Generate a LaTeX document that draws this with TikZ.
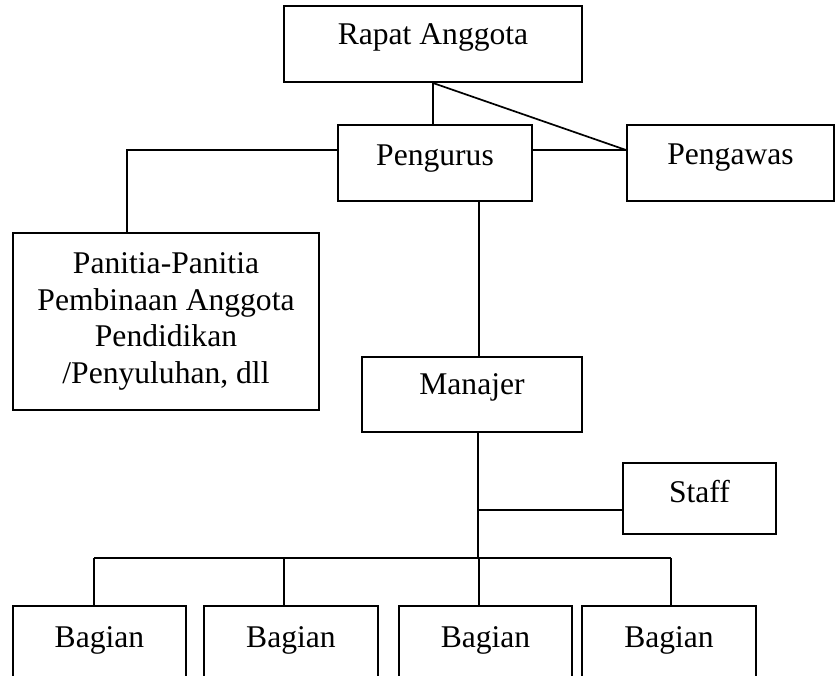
\documentclass[tikz,border=0pt]{standalone}
\usepackage{fontspec}
\setmainfont{Liberation Serif}
\begin{document}
\begin{tikzpicture}[x=1pt,y=-1pt,
  box/.style={draw, line width=2pt, inner sep=0pt, font=\fontsize{31.6}{36.5}\selectfont},
  conn/.style={line width=1.7pt}]
\path[use as bounding box] (0,0) rectangle (835,676);
\clip (0,0) rectangle (835,676);
\node[box, minimum width=298pt, text height=39pt, text depth=37pt] (rapat) at (433,44) {Rapat Anggota};
\node[box, minimum width=194pt, text height=41pt, text depth=35pt] (pengurus) at (435,163) {Pengurus};
\node[box, minimum width=207pt, text height=40pt, text depth=36pt] (pengawas) at (730.5,163) {Pengawas};
\node[box, minimum width=306pt, minimum height=177pt, align=center] (panitia) at (166,321.5) {Panitia-Panitia\\Pembinaan Anggota\\Pendidikan\\/Penyuluhan, dll};
\node[box, minimum width=220pt, text height=37.5pt, text depth=37.5pt] (manajer) at (472,394.5) {Manajer};
\node[box, minimum width=153pt, text height=39pt, text depth=32pt] (staff) at (699.5,498.5) {Staff};
\node[box, minimum width=173pt, text height=41pt, text depth=59pt] (b1) at (99.5,656) {Bagian};
\node[box, minimum width=174pt, text height=41pt, text depth=59pt] (b2) at (291,656) {Bagian};
\node[box, minimum width=173pt, text height=41pt, text depth=59pt] (b3) at (485.5,656) {Bagian};
\node[box, minimum width=174pt, text height=41pt, text depth=59pt] (b4) at (669,656) {Bagian};
% connectors
\coordinate (pj) at ([yshift=13pt]pengawas.west);
\coordinate (mb) at ([xshift=6pt]manajer.south);
\coordinate (bar) at (478,558);
\draw[conn] (rapat.south) -- (rapat.south |- pengurus.north);
\draw[conn] (rapat.south) -- (pj);
\draw[conn] (pengurus.east |- pj) -- (pj);
\draw[conn] (pengurus.west |- pj) -| ([xshift=-39pt]panitia.north);
\draw[conn] ([xshift=44pt]pengurus.south) -- ([xshift=44pt]pengurus.south |- manajer.north);
\draw[conn] (mb) -- (bar);
\draw[conn] ([yshift=-11.5pt]staff.west) -- ([yshift=-11.5pt]staff.west -| mb);
\draw[conn] ([xshift=-5.5pt]b1.north |- bar) -- ([xshift=2pt]b4.north |- bar);
\draw[conn] ([xshift=-5.5pt]b1.north) -- ([xshift=-5.5pt]b1.north |- bar);
\draw[conn] ([xshift=-7pt]b2.north) -- ([xshift=-7pt]b2.north |- bar);
\draw[conn] ([xshift=-6.5pt]b3.north) -- ([xshift=-6.5pt]b3.north |- bar);
\draw[conn] ([xshift=2pt]b4.north) -- ([xshift=2pt]b4.north |- bar);
\end{tikzpicture}
\end{document}
